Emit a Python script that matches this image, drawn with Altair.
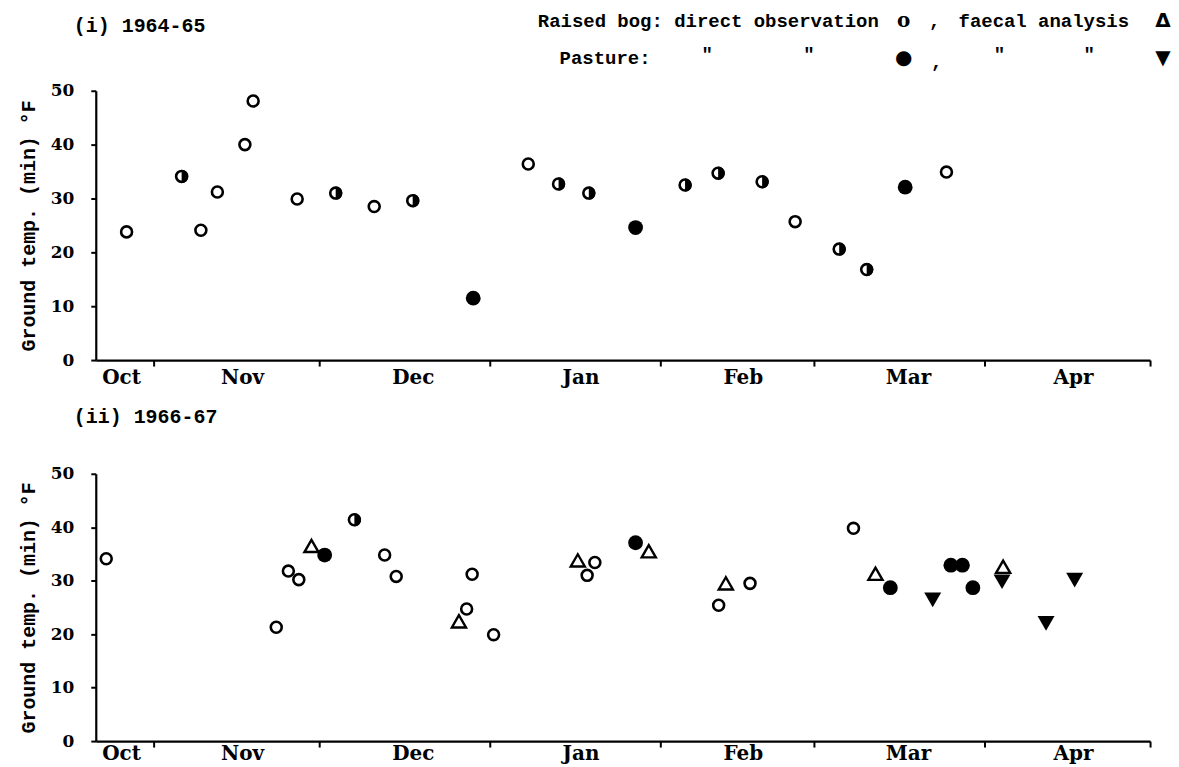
import json
import altair as alt
import pandas as pd

# ---- data (x = days counted from 1 November, y = ground temp. min, deg F) ----
# kinds: bog_obs (open circle), bog_faecal (open triangle),
#        pasture_obs (filled circle), pasture_faecal (filled inverted triangle),
#        half (half-filled circle)
days_i = [-5, 5, 8.5, 11.5, 16.5, 18, 26, 33, 40, 47, 58, 68, 73.5, 79,
          87.5, 96.5, 102.5, 110.5, 116.5, 124.5, 129.5, 136.5, 144]
temp_i = [23.8, 34.1, 24.1, 31.2, 40.0, 48.1, 29.9, 31.0, 28.5, 29.6, 11.5,
          36.4, 32.7, 31.0, 24.6, 32.5, 34.7, 33.1, 25.7, 20.6, 16.8, 32.1, 34.9]
kind_i = ["bog_obs", "half", "bog_obs", "bog_obs", "bog_obs", "bog_obs",
          "bog_obs", "half", "bog_obs", "half", "pasture_obs", "bog_obs",
          "half", "half", "pasture_obs", "half", "half", "half", "bog_obs",
          "half", "half", "pasture_obs", "bog_obs"]

days_ii = [-8.7, 22.2, 24.4, 26.3, 28.6, 31.0, 36.4, 41.9, 44.0, 55.4, 56.8,
           57.8, 61.7, 77.0, 78.7, 80.1, 87.5, 89.9, 102.6, 103.9, 108.3,
           127.1, 131.1, 133.8, 141.5, 144.8, 146.9, 148.8, 154.3, 154.1,
           162.1, 167.3]
temp_ii = [34.1, 21.3, 31.8, 30.2, 36.5, 34.8, 41.4, 34.8, 30.8, 22.4, 24.7,
           31.2, 19.9, 33.8, 31.0, 33.4, 37.1, 35.5, 25.4, 29.5, 29.5, 39.8,
           31.3, 28.7, 26.4, 32.9, 32.9, 28.7, 32.6, 29.8, 22.0, 30.1]
kind_ii = ["bog_obs", "bog_obs", "bog_obs", "bog_obs", "bog_faecal",
           "pasture_obs", "half", "bog_obs", "bog_obs", "bog_faecal",
           "bog_obs", "bog_obs", "bog_obs", "bog_faecal", "bog_obs", "bog_obs",
           "pasture_obs", "bog_faecal", "bog_obs", "bog_faecal", "bog_obs",
           "bog_obs", "bog_faecal", "pasture_obs", "pasture_faecal",
           "pasture_obs", "pasture_obs", "pasture_obs", "bog_faecal",
           "pasture_faecal", "pasture_faecal", "pasture_faecal"]

month_ticks = [0, 30, 61, 92, 120, 151, 181]          # month boundaries
month_label_pos = [-6, 16, 47, 77.5, 107, 137, 167]   # label positions
month_labels = ["Oct", "Nov", "Dec", "Jan", "Feb", "Mar", "Apr"]
y_ticks = [0, 10, 20, 30, 40, 50]
x_domain = [-10.6, 181]
y_domain = [0, 50]

MONO = "Liberation Mono"
SERIF = "DejaVu Serif"
HALF = "M0,-1A1,1,0,0,1,0,1Z"

label_expr = "{}[indexof({}, datum.value)]".format(
    json.dumps(month_labels), json.dumps(month_label_pos))


def text_layer(txt, x, y, align="left", font=MONO, size=19, weight="bold"):
    return alt.Chart(pd.DataFrame({"t": [txt]})).mark_text(
        align=align, baseline="middle", font=font, fontSize=size,
        fontWeight=weight, color="black"
    ).encode(x=alt.value(x), y=alt.value(y), text="t:N")


def panel(days, temps, kinds, title, height, legend, lab_pad):
    df = pd.DataFrame({"day": days, "temp": temps, "kind": kinds})
    base = alt.Chart(df)
    xs = alt.Scale(domain=x_domain, nice=False, zero=False)
    ys = alt.Scale(domain=y_domain, nice=False, zero=True)
    y_axis = alt.Axis(values=y_ticks, title="Ground temp. (min)  °F",
                      titleFont=MONO, titleFontSize=20, titleFontWeight="bold",
                      titlePadding=12, labelFont=SERIF, labelFontSize=17,
                      labelFontWeight="bold", labelPadding=17, tickSize=5,
                      tickWidth=2, domainWidth=2.2, grid=False,
                      labelColor="black", titleColor="black",
                      domainColor="black", tickColor="black")
    tick_axis = alt.Axis(orient="bottom", values=month_ticks, labels=False,
                         ticks=True, tickSize=6, tickWidth=2, domain=True,
                         domainWidth=2.2, domainColor="black",
                         tickColor="black", grid=False, title=None)
    label_axis = alt.Axis(orient="bottom", values=month_label_pos,
                          labelExpr=label_expr, ticks=False, tickSize=0,
                          domain=False, grid=False, title=None,
                          labelFont=SERIF, labelFontSize=20,
                          labelFontWeight="bold", labelPadding=lab_pad,
                          labelColor="black", labelOverlap=False)

    def enc(axis):
        return dict(x=alt.X("day:Q", scale=xs, axis=axis),
                    y=alt.Y("temp:Q", scale=ys, axis=y_axis))

    open_c = base.transform_filter(
        "datum.kind == 'bog_obs' || datum.kind == 'half'"
    ).mark_point(shape="circle", filled=False, stroke="black",
                 strokeWidth=2.6, size=120, opacity=1).encode(**enc(tick_axis))
    half = base.transform_filter("datum.kind == 'half'").mark_point(
        shape=HALF, filled=True, color="black", size=175, opacity=1
    ).encode(**enc(None))
    filled_c = base.transform_filter("datum.kind == 'pasture_obs'").mark_point(
        shape="circle", filled=True, color="black", size=220, opacity=1
    ).encode(**enc(label_axis))
    open_t = base.transform_filter("datum.kind == 'bog_faecal'").mark_point(
        shape="triangle-up", filled=False, stroke="black", strokeWidth=2.4,
        size=200, opacity=1).encode(**enc(None))
    filled_t = base.transform_filter("datum.kind == 'pasture_faecal'").mark_point(
        shape="triangle-down", filled=True, color="black", size=290, opacity=1
    ).encode(**enc(None))

    layers = [open_c, half, filled_c, open_t, filled_t,
              text_layer(title, -22, -57 if not legend else -65, size=20)]
    if legend:
        l1, l2 = -70, -33
        layers += [
            text_layer("Raised bog: direct observation", 785, l1, align="right"),
            text_layer("o", 810, l1, align="center", font=SERIF, size=20),
            text_layer(",", 841, l1, align="center"),
            text_layer("faecal analysis", 865, l1),
            text_layer("Δ", 1070, l1, align="center", font="DejaVu Sans", size=20),
            text_layer("Pasture:", 465, l2),
            text_layer('"', 613, l2 - 4, align="center"),
            text_layer('"', 715, l2 - 4, align="center"),
            text_layer("●", 810, l2, align="center", font="DejaVu Sans", size=20),
            text_layer(",", 843, l2 + 4, align="center"),
            text_layer('"', 906, l2 - 4, align="center"),
            text_layer('"', 996, l2 - 4, align="center"),
            text_layer("▼", 1070, l2, align="center", font="DejaVu Sans", size=20),
        ]
    return alt.layer(*layers).resolve_axis(x="independent").properties(
        width=1057, height=height)


p1 = panel(days_i, temp_i, kind_i, "(i)  1964-65", 270, True, 7)
p2 = panel(days_ii, temp_ii, kind_ii, "(ii) 1966-67", 268, False, 2)

chart = alt.vconcat(p1, p2, spacing=20).properties(
    padding={"left": 10, "top": 2, "right": 0, "bottom": 0},
    background="white",
).configure_view(stroke=None)

chart.save("out.html", embed_options={"renderer": "svg", "actions": False})
